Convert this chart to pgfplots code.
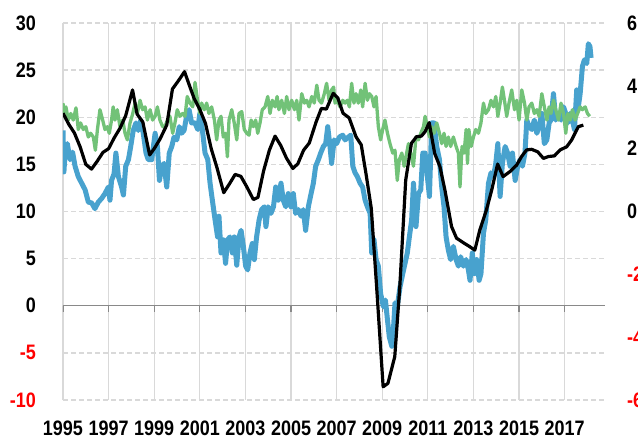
\documentclass[border=0pt]{standalone}
\usepackage{pgfplots}
\pgfplotsset{compat=1.18}
\usepackage{fontspec}
\newfontfamily\lbl{Liberation Sans}[FakeStretch=0.86]
\definecolor{cblue}{RGB}{72,162,206}
\definecolor{cgreen}{RGB}{114,194,120}
\definecolor{cgrid}{RGB}{217,217,217}
\definecolor{czero}{RGB}{137,137,137}
\definecolor{cred}{RGB}{255,0,0}
\begin{document}
\begin{tikzpicture}
\pgfplotsset{
  base/.style={
    at={(63bp,38bp)}, anchor=south west, scale only axis,
    width=542bp, height=377bp,
    xmin=1995, xmax=2018.77,
    tick label style={font=\lbl\bfseries\fontsize{21}{21}\selectfont, inner sep=0pt},
    major tick length=0pt,
    clip=true,
  }
}
\begin{axis}[base,
  ymin=-10, ymax=30,
  axis line style={draw=none},
  xtick={1995,1997,...,2017},
  xticklabels={1995,1997,1999,2001,2003,2005,2007,2009,2011,2013,2015,2017},
  xticklabel style={anchor=north, yshift=-21bp},
  ytick={-10,-5,0,5,10,15,20,25,30},
  yticklabels={\textcolor{cred}{-10},\textcolor{cred}{-5},0,5,10,15,20,25,30},
  yticklabel style={anchor=east, xshift=-27bp},
  xmajorgrids, ymajorgrids,
  x grid style={cgrid, line width=1.3bp},
  y grid style={cgrid, line width=1.3bp, dash pattern=on 5bp off 3bp},
]
\draw[czero, line width=1.5bp] (axis cs:1995,0) -- (axis cs:2018.77,0);
\pgfplotsinvokeforeach{1995,1997,...,2017}{
  \draw[czero, line width=1.3bp] (axis cs:#1,0) -- ([yshift=-6bp]axis cs:#1,0);
}
\addplot[cblue, line width=5bp, line join=round] coordinates {
(1995.00,18.6) (1995.04,14.2) (1995.09,16.2) (1995.19,17.2) (1995.31,15.5) (1995.42,16.3)
(1995.53,14.8) (1995.67,13.7) (1995.82,13.0) (1995.97,12.3) (1996.11,11.0) (1996.26,10.9)
(1996.40,10.3) (1996.55,11.0) (1996.70,11.4) (1996.84,11.9) (1996.99,12.6) (1997.06,11.2)
(1997.13,13.3) (1997.24,14.0) (1997.32,16.2) (1997.43,13.7) (1997.57,12.6) (1997.65,11.75)
(1997.75,14.8) (1997.87,15.5) (1997.97,16.9) (1998.08,18.6) (1998.20,19.4) (1998.30,18.6)
(1998.41,19.7) (1998.52,18.3) (1998.64,16.2) (1998.74,15.5) (1998.89,15.5) (1999.04,18.3)
(1999.14,16.9) (1999.23,13.3) (1999.33,14.8) (1999.43,15.1) (1999.55,12.6) (1999.66,16.2)
(1999.77,16.9) (1999.87,17.9) (1999.99,17.6) (2000.10,19.0) (2000.20,18.3) (2000.31,18.6)
(2000.42,20.1) (2000.53,20.8) (2000.64,19.4) (2000.79,19.4) (2000.91,18.7) (2001.00,20.4)
(2001.11,18.7) (2001.23,16.2) (2001.35,15.5) (2001.45,13.0) (2001.55,11.2) (2001.67,9.1)
(2001.78,7.3) (2001.84,9.5) (2001.93,5.6) (2002.03,7.0) (2002.13,4.5) (2002.22,7.0)
(2002.32,7.3) (2002.43,5.6) (2002.51,7.3) (2002.62,4.3) (2002.72,7.3) (2002.81,8.0)
(2002.91,6.3) (2003.01,4.2) (2003.10,3.8) (2003.20,5.6) (2003.30,6.6) (2003.39,4.9)
(2003.49,7.3) (2003.60,9.1) (2003.71,10.2) (2003.83,10.5) (2003.90,8.4) (2004.00,10.5)
(2004.12,9.8) (2004.23,10.5) (2004.33,12.6) (2004.44,11.2) (2004.56,13.0) (2004.66,11.2)
(2004.77,10.5) (2004.88,11.9) (2005.00,10.5) (2005.10,11.9) (2005.20,9.8) (2005.32,10.2)
(2005.44,9.5) (2005.54,10.2) (2005.64,8.0) (2005.76,10.5) (2005.88,11.9) (2005.98,13.0)
(2006.08,14.8) (2006.20,15.5) (2006.30,16.2) (2006.42,16.9) (2006.52,17.2) (2006.61,19.0)
(2006.71,16.9) (2006.78,15.1) (2006.89,17.6) (2007.00,17.2) (2007.12,17.9) (2007.27,18.1)
(2007.37,17.6) (2007.52,17.9) (2007.62,18.1) (2007.71,14.8) (2007.81,14.1) (2007.91,13.7)
(2008.03,13.0) (2008.14,12.6) (2008.25,11.2) (2008.35,10.5) (2008.47,9.8) (2008.54,5.6)
(2008.64,7.0) (2008.73,4.9) (2008.83,4.2) (2008.93,1.3) (2009.05,-0.1) (2009.14,0.6)
(2009.23,-1.5) (2009.31,-3.3) (2009.42,-4.3) (2009.49,-2.6) (2009.56,0.3) (2009.66,-0.1)
(2009.78,2.0) (2009.90,3.4) (2010.00,4.5) (2010.10,5.6) (2010.19,7.3) (2010.29,9.1)
(2010.37,13.0) (2010.48,8.4) (2010.59,11.9) (2010.69,12.3) (2010.78,16.2) (2010.88,16.2)
(2010.95,14.4) (2011.07,11.6) (2011.17,19.4) (2011.27,19.4) (2011.39,16.9) (2011.51,15.5)
(2011.61,12.6) (2011.71,10.5) (2011.80,7.3) (2011.90,5.9) (2012.00,4.9) (2012.12,6.3)
(2012.24,4.9) (2012.34,4.2) (2012.44,5.2) (2012.56,4.2) (2012.68,4.9) (2012.78,3.8)
(2012.85,2.7) (2012.95,5.6) (2013.04,3.4) (2013.14,4.9) (2013.25,2.7) (2013.33,3.4)
(2013.44,7.7) (2013.54,9.1) (2013.66,13.0) (2013.77,14.1) (2013.88,13.7) (2013.98,15.1)
(2014.07,17.2) (2014.17,11.6) (2014.27,15.1) (2014.39,16.9) (2014.50,16.2) (2014.61,14.8)
(2014.71,16.2) (2014.83,13.3) (2014.94,14.8) (2015.04,15.5) (2015.15,14.8) (2015.26,16.2)
(2015.34,19.7) (2015.44,19.0) (2015.56,18.7) (2015.67,19.7) (2015.78,18.3) (2015.88,19.0)
(2016.00,20.4) (2016.11,17.2) (2016.22,17.6) (2016.32,19.4) (2016.40,19.7) (2016.51,22.5)
(2016.61,19.7) (2016.73,20.4) (2016.84,19.7) (2016.95,21.1) (2017.05,20.4) (2017.14,19.4)
(2017.24,20.4) (2017.34,19.7) (2017.43,18.7) (2017.53,22.9) (2017.60,21.1) (2017.68,22.5)
(2017.78,25.4) (2017.87,26.1) (2017.97,25.7) (2018.04,27.8) (2018.11,27.5) (2018.16,26.3)
};
\addplot[cgreen, line width=3.3bp, line join=round] coordinates {
(1995.00,21.5) (1995.04,20.4) (1995.13,21.1) (1995.23,19.7) (1995.34,20.4) (1995.45,19.7)
(1995.57,21.0) (1995.67,18.7) (1995.77,19.4) (1995.89,18.7) (1996.00,19.0) (1996.11,17.9)
(1996.21,18.3) (1996.33,17.9) (1996.42,16.5) (1996.51,18.7) (1996.62,20.8) (1996.74,19.7)
(1996.84,18.7) (1996.94,19.0) (1997.03,18.3) (1997.13,19.7) (1997.20,21.1) (1997.28,19.7)
(1997.38,20.8) (1997.50,19.0) (1997.62,19.7) (1997.72,18.3) (1997.82,17.6) (1997.94,19.4)
(1998.06,20.4) (1998.16,21.5) (1998.26,20.4) (1998.38,21.8) (1998.49,20.8) (1998.60,21.1)
(1998.70,19.7) (1998.82,20.8) (1998.93,19.7) (1999.04,20.1) (1999.14,21.1) (1999.25,19.7)
(1999.37,19.0) (1999.47,19.0) (1999.58,19.7) (1999.69,20.1) (1999.81,18.3) (1999.91,19.4)
(2000.01,20.8) (2000.13,20.1) (2000.25,20.4) (2000.35,20.1) (2000.45,22.2) (2000.57,21.5)
(2000.69,21.1) (2000.79,23.7) (2000.90,21.8) (2001.00,20.4) (2001.08,21.5) (2001.20,20.8)
(2001.30,21.5) (2001.40,20.4) (2001.52,21.1) (2001.64,19.7) (2001.74,17.6) (2001.84,19.7)
(2001.93,20.1) (2002.03,17.9) (2002.13,18.3) (2002.21,15.8) (2002.28,19.7) (2002.40,20.8)
(2002.51,19.4) (2002.62,17.6) (2002.72,20.4) (2002.84,20.6) (2002.95,18.7) (2003.06,18.3)
(2003.16,18.1) (2003.25,19.7) (2003.35,19.0) (2003.45,19.7) (2003.54,18.3) (2003.64,19.4)
(2003.74,20.8) (2003.86,21.1) (2003.98,22.2) (2004.08,20.4) (2004.18,21.8) (2004.30,21.1)
(2004.39,22.2) (2004.47,20.8) (2004.59,21.8) (2004.71,20.4) (2004.81,22.2) (2004.91,20.8)
(2005.03,21.8) (2005.15,20.8) (2005.25,21.8) (2005.35,19.7) (2005.47,22.5) (2005.59,21.5)
(2005.69,21.8) (2005.79,21.1) (2005.91,22.2) (2006.02,21.5) (2006.13,23.4) (2006.23,21.8)
(2006.34,21.5) (2006.46,22.5) (2006.56,23.6) (2006.67,21.8) (2006.78,22.9) (2006.87,23.2)
(2006.93,21.5) (2007.03,21.8) (2007.15,21.1) (2007.27,21.8) (2007.37,21.5) (2007.47,21.8)
(2007.56,21.1) (2007.66,23.6) (2007.76,21.5) (2007.85,22.5) (2007.95,21.5) (2008.06,22.9)
(2008.14,21.1) (2008.25,23.6) (2008.35,21.8) (2008.44,22.5) (2008.54,22.2) (2008.64,21.1)
(2008.73,22.2) (2008.83,19.0) (2008.93,17.6) (2009.02,18.7) (2009.12,19.7) (2009.23,18.3)
(2009.34,17.2) (2009.46,16.2) (2009.56,16.5) (2009.66,13.3) (2009.75,15.5) (2009.86,16.2)
(2009.96,14.8) (2010.04,15.8) (2010.15,17.2) (2010.25,16.2) (2010.37,14.8) (2010.48,17.9)
(2010.59,17.6) (2010.69,18.3) (2010.81,19.0) (2010.88,20.1) (2010.98,19.0) (2011.07,17.9)
(2011.17,19.0) (2011.27,18.3) (2011.39,19.4) (2011.51,18.3) (2011.61,17.2) (2011.71,18.3)
(2011.80,16.9) (2011.90,17.9) (2012.00,16.9) (2012.12,17.9) (2012.24,16.9) (2012.34,16.2)
(2012.41,12.6) (2012.50,16.9) (2012.59,16.2) (2012.68,18.7) (2012.74,15.1) (2012.80,18.7)
(2012.90,16.9) (2013.00,17.9) (2013.10,18.7) (2013.22,18.3) (2013.33,19.4) (2013.44,21.5)
(2013.54,20.4) (2013.66,20.8) (2013.77,21.8) (2013.88,21.1) (2013.98,22.2) (2014.07,20.1)
(2014.17,21.5) (2014.27,23.2) (2014.36,21.8) (2014.46,20.1) (2014.56,21.5) (2014.68,22.9)
(2014.80,20.8) (2014.90,21.8) (2015.00,19.7) (2015.12,22.9) (2015.24,21.5) (2015.34,19.7)
(2015.44,21.1) (2015.56,21.5) (2015.67,20.4) (2015.78,20.8) (2015.88,20.1) (2016.00,22.5)
(2016.11,21.1) (2016.22,19.7) (2016.32,21.1) (2016.40,20.4) (2016.51,21.8) (2016.61,20.8)
(2016.73,19.7) (2016.84,21.5) (2016.95,20.4) (2017.05,18.3) (2017.14,20.4) (2017.24,19.7)
(2017.34,20.8) (2017.46,19.7) (2017.57,20.4) (2017.68,21.1) (2017.78,20.8) (2017.90,21.1)
(2018.00,20.4) (2018.10,20.1)
};
\end{axis}
\begin{axis}[base,
  ymin=-6, ymax=6,
  axis line style={draw=none},
  xtick=\empty,
  axis y line*=right,
  ytick={-6,-4,-2,0,2,4,6},
  yticklabels={\textcolor{cred}{-6},\textcolor{cred}{-4},\textcolor{cred}{-2},0,2,4,6},
  yticklabel style={anchor=west, xshift=22bp},
]
\addplot[black, line width=3.2bp, line join=round] coordinates {
(1995.00,3.13) (1995.25,2.78) (1995.50,2.50) (1995.75,2.06) (1996.00,1.50) (1996.25,1.35)
(1996.50,1.60) (1996.75,1.88) (1997.00,2.00) (1997.25,2.35) (1997.50,2.65) (1997.75,3.05)
(1998.05,3.87) (1998.25,3.10) (1998.50,2.85) (1998.80,1.80) (1999.00,2.00) (1999.25,2.30)
(1999.55,2.75) (1999.80,3.90) (2000.05,4.15) (2000.33,4.45) (2000.55,4.00) (2000.75,3.60)
(2001.00,3.25) (2001.25,2.80) (2001.50,2.00) (2001.75,1.40) (2002.05,0.60) (2002.30,0.88)
(2002.55,1.18) (2002.80,1.12) (2003.05,0.80) (2003.35,0.38) (2003.55,0.45) (2003.80,1.30)
(2004.05,1.95) (2004.30,2.40) (2004.55,2.10) (2004.80,1.70) (2005.08,1.37) (2005.30,1.52)
(2005.55,1.95) (2005.80,2.18) (2006.10,2.85) (2006.33,3.28) (2006.55,3.26) (2006.85,3.76)
(2007.05,3.62) (2007.28,3.13) (2007.55,2.98) (2007.85,2.38) (2008.08,2.12) (2008.30,1.15)
(2008.52,0.10) (2008.75,-2.35) (2009.04,-5.58) (2009.25,-5.47) (2009.55,-4.62) (2009.77,-2.40)
(2010.03,1.00) (2010.28,2.17) (2010.50,2.38) (2010.72,2.40) (2010.88,2.54) (2011.06,2.83)
(2011.30,1.85) (2011.53,1.43) (2011.75,0.68) (2012.04,-0.48) (2012.26,-0.85) (2012.55,-0.99)
(2012.84,-1.12) (2013.06,-1.23) (2013.28,-0.59) (2013.57,0.05) (2013.80,0.68) (2014.06,1.51)
(2014.30,1.11) (2014.60,1.27) (2014.90,1.48) (2015.11,1.75) (2015.33,1.96) (2015.55,1.98)
(2015.82,1.90) (2016.07,1.69) (2016.29,1.75) (2016.55,1.77) (2016.80,1.96) (2017.09,2.06)
(2017.31,2.28) (2017.60,2.70) (2017.82,2.75)
};
\end{axis}
\pgfresetboundingbox
\path (0,0) rectangle (638bp,438bp);
\end{tikzpicture}
\end{document}
